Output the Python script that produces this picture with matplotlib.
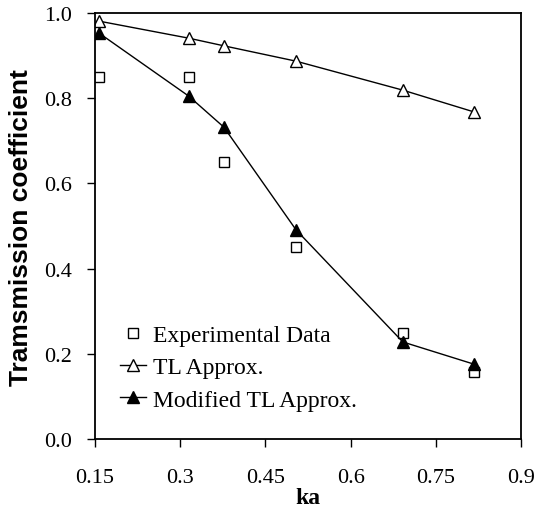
import matplotlib
matplotlib.use("Agg")
import matplotlib.pyplot as plt

ka = [0.157, 0.315, 0.377, 0.504, 0.692, 0.817]
experimental = [0.85, 0.85, 0.65, 0.45, 0.249, 0.157]
tl_approx = [0.981, 0.941, 0.923, 0.887, 0.819, 0.768]
modified_tl = [0.953, 0.805, 0.732, 0.491, 0.228, 0.176]
xticks = [0.15, 0.3, 0.45, 0.6, 0.75, 0.9]
xticklabels = ["0.15", "0.3", "0.45", "0.6", "0.75", "0.9"]
yticks = [0.0, 0.2, 0.4, 0.6, 0.8, 1.0]
yticklabels = ["0.0", "0.2", "0.4", "0.6", "0.8", "1.0"]

fig = plt.figure(figsize=(5.35, 5.10), dpi=100)
ax = fig.add_axes([0.1776, 0.137, 0.7962, 0.8355])

ax.plot(ka, experimental, linestyle="none", marker="s", markersize=7,
        markerfacecolor="white", markeredgecolor="black", markeredgewidth=1.0,
        label="Experimental Data")
ax.plot(ka, tl_approx, color="black", linewidth=1.0, marker="^", markersize=8,
        markerfacecolor="white", markeredgecolor="black", markeredgewidth=1.0,
        label="TL Approx.")
ax.plot(ka, modified_tl, color="black", linewidth=1.0, marker="^", markersize=8,
        markerfacecolor="black", markeredgecolor="black",
        label="Modified TL Approx.")

ax.set_xlim(0.15, 0.9)
ax.set_ylim(0.0, 1.0)
ax.set_xticks(xticks)
ax.set_xticklabels(xticklabels, fontfamily="Liberation Serif", fontsize=16)
ax.set_yticks(yticks)
ax.set_yticklabels(yticklabels, fontfamily="Liberation Serif", fontsize=16)
ax.tick_params(direction="out", length=5.5, width=1.0)
ax.tick_params(axis="y", pad=11)
ax.tick_params(axis="x", pad=15)
for s in ax.spines.values():
    s.set_linewidth(1.3)

ax.set_xlabel("ka", fontfamily="Liberation Serif", fontweight="bold", fontsize=17, labelpad=0)
ax.set_ylabel("Tramsmission coefficient", fontfamily="Liberation Sans", fontweight="bold",
              fontsize=19)
ax.yaxis.set_label_coords(-0.146, 0.5)

leg = ax.legend(loc="lower left", bbox_to_anchor=(0.036, 0.045), frameon=False,
                prop={"family": "Liberation Serif", "size": 17},
                handlelength=1.1, handletextpad=0.3, labelspacing=0.45, borderaxespad=0)

fig.savefig("out.png", dpi=100)
